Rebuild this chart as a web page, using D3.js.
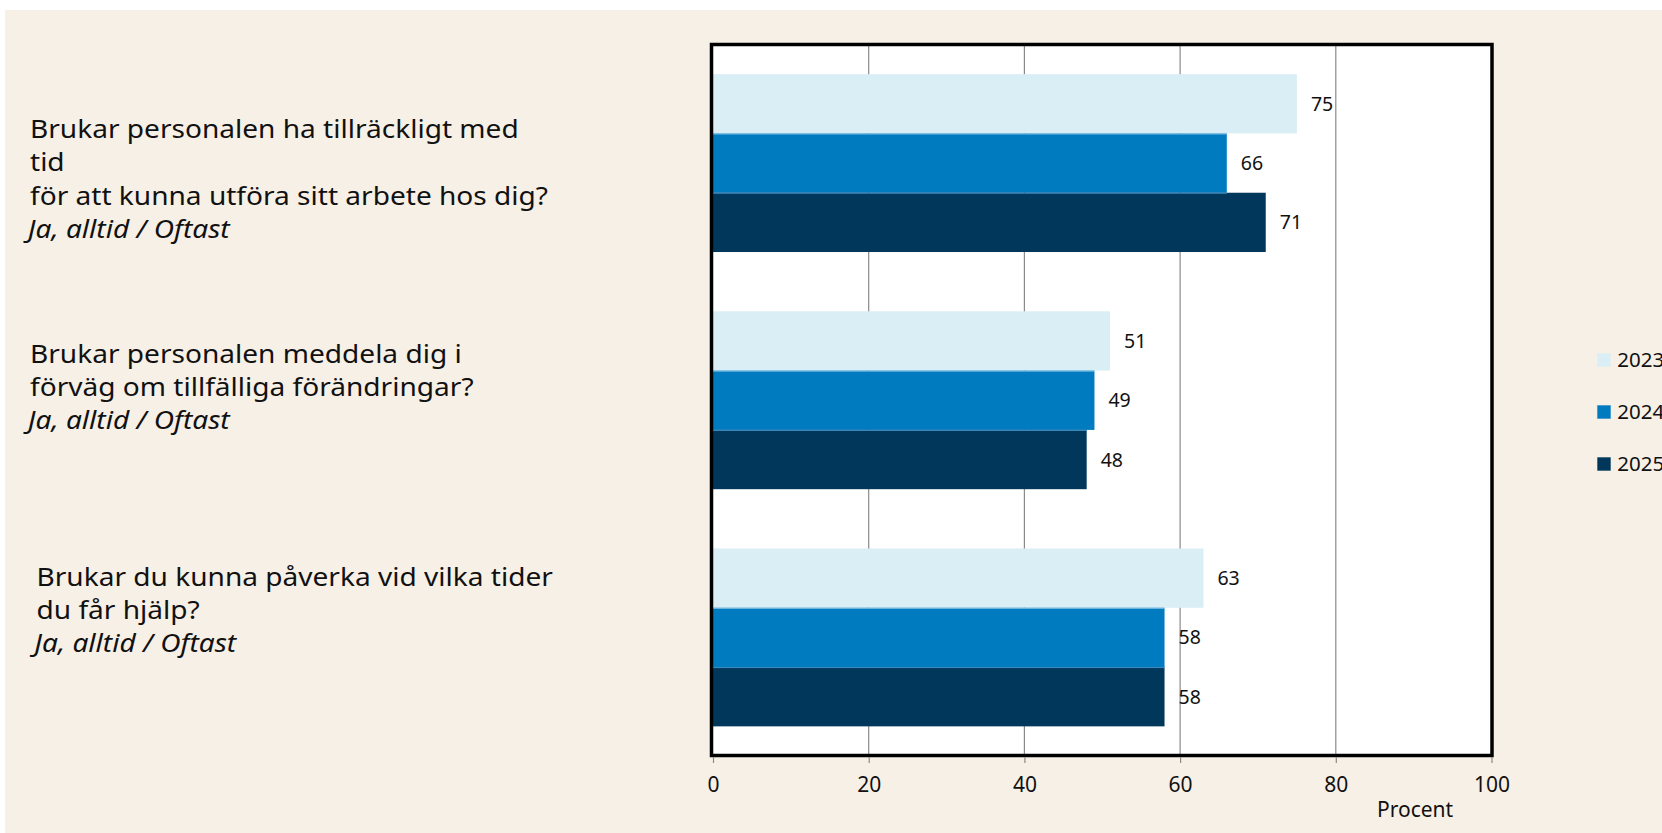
<!DOCTYPE html>
<html><head><meta charset="utf-8">
<script src="https://cdn.jsdelivr.net/npm/d3@7"></script>
<style>html,body{margin:0;padding:0;background:#fff;overflow:hidden}svg{display:block}</style>
</head><body>
<svg id="c" width="1662" height="833"></svg>
<script>
// ---- data ----
const categories = [
  "Brukar personalen ha tillräckligt med tid för att kunna utföra sitt arbete hos dig?",
  "Brukar personalen meddela dig i förväg om tillfälliga förändringar?",
  "Brukar du kunna påverka vid vilka tider du får hjälp?"
];
const categoryLines = [
  ["Brukar personalen ha tillräckligt med", "tid", "för att kunna utföra sitt arbete hos dig?"],
  ["Brukar personalen meddela dig i", "förväg om tillfälliga förändringar?"],
  ["Brukar du kunna påverka vid vilka tider", "du får hjälp?"]
];
const subLabel = "Ja, alltid / Oftast";
const seriesNames = ["2023", "2024", "2025"];
const values2023 = [75, 51, 63];
const values2024 = [66, 49, 58];
const values2025 = [71, 48, 58];
const tickValues = [0, 20, 40, 60, 80, 100];
const axisTitle = "Procent";

// ---- layout ----
const colors = ["#DAEEF5", "#007BC0", "#00375B"];
const font = "'Noto Sans', 'Open Sans', sans-serif";
const svg = d3.select("#c");
svg.append("rect").attr("x", 5).attr("y", 10).attr("width", 1662).attr("height", 830).attr("fill", "#F7F0E7");

const x = d3.scaleLinear().domain([0, 100]).range([713, 1491.5]);
const y = d3.scaleBand().domain(categories).range([44.5, 756]).paddingInner(0.25).paddingOuter(0.125);
const ySub = d3.scaleBand().domain(seriesNames).range([0, y.bandwidth()]);
const series = [values2023, values2024, values2025];

// plot area
svg.append("rect").attr("x", x(0)).attr("y", 44.5).attr("width", x(100) - x(0)).attr("height", 711).attr("fill", "#fff");

// gridlines
svg.append("g").selectAll("line").data(tickValues.filter(t => t > 0 && t < 100)).join("line")
  .attr("x1", d => x(d)).attr("x2", d => x(d)).attr("y1", 44.5).attr("y2", 755.5)
  .attr("stroke", "#8a8a8a").attr("stroke-width", 1.2);

// bars
const rows = [];
categories.forEach((c, i) => seriesNames.forEach((s, j) => rows.push({c, s, j, v: series[j][i]})));
svg.append("g").selectAll("rect").data(rows).join("rect")
  .attr("x", x(0)).attr("y", d => y(d.c) + ySub(d.s))
  .attr("width", d => x(d.v) - x(0)).attr("height", ySub.bandwidth())
  .attr("fill", d => colors[d.j]);
// thin separator on top of darker bars
svg.append("g").selectAll("line").data(rows.filter(d => d.j > 0)).join("line")
  .attr("x1", x(0)).attr("x2", d => x(Math.min(d.v, series[d.j - 1][categories.indexOf(d.c)])))
  .attr("y1", d => y(d.c) + ySub(d.s) + 0.5).attr("y2", d => y(d.c) + ySub(d.s) + 0.5)
  .attr("stroke", d => d.j === 1 ? "#8cc6e6" : "#3f8fc6").attr("stroke-width", 1);

// value labels
svg.append("g").selectAll("text").data(rows).join("text")
  .attr("x", d => x(d.v) + 14).attr("y", d => y(d.c) + ySub(d.s) + ySub.bandwidth() / 2)
  .attr("dy", "0.36em").attr("font-family", font).attr("font-size", 19.5).attr("fill", "#111")
  .text(d => d.v);

// frame
svg.append("rect").attr("x", 711.5).attr("y", 44.5).attr("width", 1492 - 711.5).attr("height", 711)
  .attr("fill", "none").attr("stroke", "#000").attr("stroke-width", 3.5);

// x axis via d3.axisBottom
const axisG = svg.append("g").attr("transform", "translate(0,757)")
  .call(d3.axisBottom(x).tickValues(tickValues).tickSize(6).tickPadding(14));
axisG.select(".domain").remove();
axisG.selectAll(".tick line").attr("stroke", "#8a8a8a").attr("stroke-width", 1.2);
axisG.selectAll(".tick text").attr("font-family", font).attr("font-size", 21).attr("fill", "#111");
svg.append("text").attr("x", 1377).attr("y", 817).attr("font-family", font).attr("font-size", 21)
  .attr("fill", "#111").text(axisTitle);

// category labels (left)
const labelFirstBaseline = [138.3, 362.7, 586];
const labelX = [30, 30, 36.5];
const lh = 33.2;
categories.forEach((c, i) => {
  const g = svg.append("g").attr("transform", `translate(${labelX[i]},0) scale(1.08,1)`);
  const lines = categoryLines[i];
  lines.forEach((t, k) => {
    g.append("text").attr("x", 0).attr("y", labelFirstBaseline[i] + k * lh)
      .attr("font-family", font).attr("font-size", 26).attr("fill", "#111").text(t);
  });
  g.append("text").attr("x", -2).attr("y", labelFirstBaseline[i] + lines.length * lh)
    .attr("font-family", font).attr("font-size", 26).attr("font-style", "italic").attr("fill", "#111").text(subLabel);
});

// legend
const leg = svg.append("g").selectAll("g").data(seriesNames).join("g")
  .attr("transform", (d, i) => `translate(1597.3,${353.3 + i * 52})`);
leg.append("rect").attr("width", 13.4).attr("height", 13.4).attr("fill", (d, i) => colors[i]);
leg.append("text").attr("x", 20).attr("y", 14).attr("font-family", font).attr("font-size", 20.5)
  .attr("fill", "#111").text(d => d);
</script>
</body></html>
